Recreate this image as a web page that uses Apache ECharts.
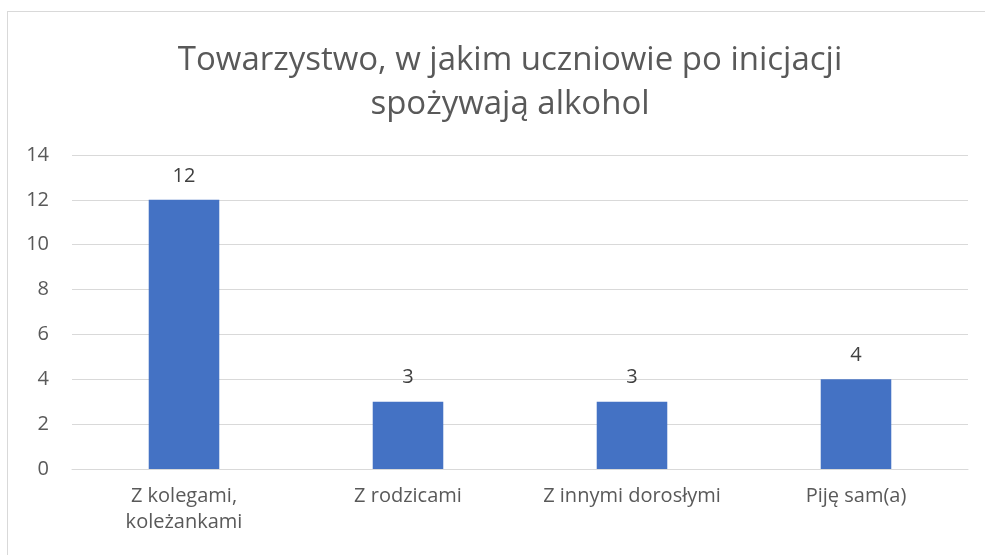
<!DOCTYPE html>
<html>
<head>
<meta charset="utf-8">
<script src="https://cdn.jsdelivr.net/npm/echarts@6/dist/echarts.min.js"></script>
<style>
    html, body { margin: 0; padding: 0; background: #fff; overflow: hidden; }
    #frame {
        position: absolute; left: 7px; top: 11px; width: 1000px; height: 600px;
        border-left: 1px solid #d9d9d9; border-top: 1px solid #d9d9d9;
    }
    #chart { position: absolute; left: 0; top: 0; width: 985px; height: 555px; }
</style>
</head>
<body>
<div id="frame"></div>
<div id="chart"></div>
<script>
    var chartTitle = 'Towarzystwo, w jakim uczniowie po inicjacji\nspożywają alkohol';
    var categories = ['Z kolegami,\nkoleżankami', 'Z rodzicami', 'Z innymi dorosłymi', 'Piję sam(a)'];
    var values = [12, 3, 3, 4];
    var yMin = 0, yMax = 14, yStep = 2;

    var font = '"Open Sans", "Noto Sans", sans-serif';
    var chart = echarts.init(document.getElementById('chart'));
    chart.setOption({
        animation: false,
        title: {
            text: chartTitle,
            left: 505,
            textAlign: 'center',
            top: 34,
            textStyle: {
                fontFamily: font,
                fontSize: 33,
                fontWeight: 'normal',
                color: '#595959',
                lineHeight: 44
            }
        },
        grid: {
            left: 72,
            right: 17,
            top: 155,
            bottom: 86
        },
        xAxis: {
            type: 'category',
            data: categories,
            axisLine: { show: true, lineStyle: { color: '#d9d9d9', width: 1 } },
            axisTick: { show: false },
            axisLabel: {
                interval: 0,
                fontFamily: font,
                fontSize: 20,
                color: '#595959',
                lineHeight: 26,
                margin: 14
            }
        },
        yAxis: {
            type: 'value',
            min: yMin,
            max: yMax,
            interval: yStep,
            axisLine: { show: false },
            axisTick: { show: false },
            splitLine: { lineStyle: { color: '#d9d9d9', width: 1 } },
            axisLabel: {
                fontFamily: font,
                fontSize: 20,
                color: '#595959',
                margin: 23,
                align: 'right'
            }
        },
        series: [{
            type: 'bar',
            data: values,
            barWidth: '31.5%',
            itemStyle: { color: '#4472C4' },
            label: {
                show: true,
                position: 'top',
                distance: 14,
                fontFamily: font,
                fontSize: 20,
                color: '#404040'
            }
        }]
    });
</script>
</body>
</html>
